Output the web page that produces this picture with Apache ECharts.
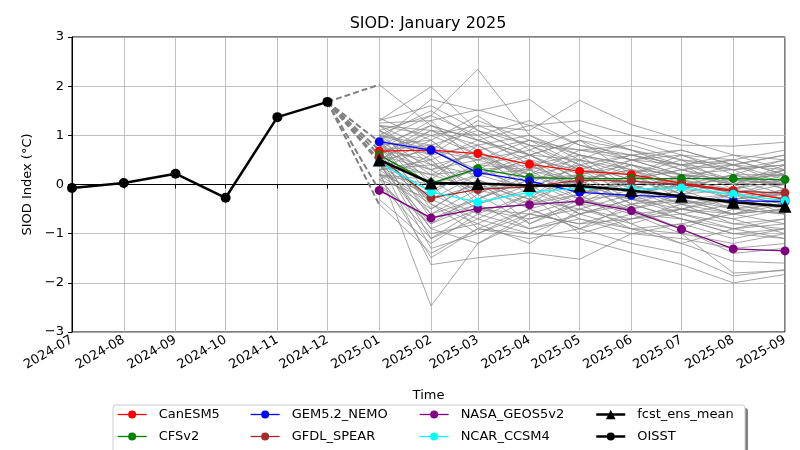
<!DOCTYPE html>
<html>
<head>
<meta charset="utf-8">
<script src="https://cdn.jsdelivr.net/npm/echarts@6/dist/echarts.min.js"></script>
<style>html,body{margin:0;padding:0;background:#fff}#c{width:800px;height:450px}</style>
</head>
<body>
<div id="c"></div>
<script>
// ---------- data ----------
const obsMonths = ['2024-07','2024-08','2024-09','2024-10','2024-11','2024-12'];
const obsValues = [-0.07, 0.03, 0.22, -0.27, 1.37, 1.68];
const fcstMonths = ['2025-01','2025-02','2025-03','2025-04','2025-05','2025-06','2025-07','2025-08','2025-09'];

const canesm5   = [0.68, 0.70, 0.63, 0.41, 0.27, 0.20, 0.03, -0.12, -0.30];
const cfsv2     = [0.60, 0.03, 0.32, 0.14, 0.12, 0.12, 0.12, 0.12, 0.10];
const gem52     = [0.87, 0.70, 0.24, 0.07, -0.16, -0.22, -0.26, -0.33, -0.35];
const gfdl      = [0.55, -0.27, -0.10, -0.05, 0.09, 0.07, 0.00, -0.14, -0.17];
const nasa      = [-0.12, -0.68, -0.49, -0.41, -0.34, -0.53, -0.91, -1.31, -1.35];
const ncar      = [0.45, -0.15, -0.36, -0.16, -0.07, -0.09, -0.07, -0.20, -0.33];
const ensMean   = [0.50, 0.03, 0.02, -0.02, -0.03, -0.12, -0.24, -0.36, -0.44];

// end values (Jan 2025) of the dashed connectors from the last observation
const dashEnds = [2.03, 0.87, 0.70, 0.60, 0.50, 0.45, -0.12, -0.41];

// individual ensemble members (Jan..Sep 2025)
const ensembleMembers = [
 [2.03, 1.2, 0.9, 0.6, 0.5, 0.3, 0.2, 0.1, 0.2],
 [1.3, 1.99, 1.1, 0.8, 0.7, 0.5, 0.4, 0.3, 0.4],
 [1.1, 1.4, 2.34, 1.0, 0.6, 0.4, 0.2, 0.1, 0.0],
 [0.9, 1.73, 1.5, 1.73, 1.0, 0.7, 0.5, 0.4, 0.3],
 [1.2, 1.0, 1.2, 1.1, 1.71, 1.22, 0.91, 0.6, 0.5],
 [1.25, 1.3, 1.52, 1.2, 1.3, 1.0, 0.8, 0.78, 0.86],
 [0.3, -2.47, -1.2, -0.6, -0.8, -0.7, -0.5, -0.6, -0.5],
 [0.5, -1.63, -1.49, -1.39, -1.52, -1.0, -1.1, -1.3, -1.2],
 [0.2, -1.49, -0.9, -1.0, -1.1, -1.38, -1.63, -2.0, -1.83],
 [0.6, -1.3, -1.0, -0.5, -0.9, -1.2, -1.4, -1.86, -1.73],
 [0.4, -0.9, -0.5, -0.7, -0.5, -0.8, -1.2, -1.56, -1.6],
 [0.7, -1.1, -0.7, -1.0, -0.6, -0.9, -1.0, -1.8, -1.75],
 [1.0, 0.8, 1.1, 0.6, 0.9, 0.5, 0.7, 0.4, 0.6],
 [0.8, 1.2, 0.7, 0.9, 0.4, 0.6, 0.3, 0.5, 0.2],
 [0.6, 0.3, 0.5, 0.2, 0.4, 0.1, 0.3, 0.0, 0.1],
 [0.9, -0.2, 0.4, 0.6, 0.1, 0.3, -0.1, 0.2, 0.0],
 [0.4, 0.9, 0.2, 0.5, -0.2, 0.1, 0.4, -0.1, 0.3],
 [1.1, 0.5, -0.3, 0.1, 0.3, -0.2, 0.0, -0.3, -0.1],
 [0.7, -0.6, -0.1, -0.4, 0.2, 0.0, -0.3, -0.2, -0.4],
 [0.2, 0.1, 0.8, 0.3, 0.5, 0.2, -0.2, 0.1, -0.2],
 [1.2, 1.1, 0.6, 0.2, 0.0, -0.3, -0.4, -0.6, -0.5],
 [0.5, 0.7, 1.3, 0.9, 0.7, 0.8, 0.5, 0.3, 0.4],
 [0.0, -0.8, -0.4, -0.9, -0.6, -0.4, -0.7, -0.9, -0.8],
 [0.3, -0.4, -1.0, -0.6, -0.3, -0.6, -0.5, -0.7, -1.0],
 [0.8, 0.4, 0.0, -0.3, -0.5, -0.2, -0.6, -0.4, -0.6],
 [1.0, 1.5, 0.9, 1.2, 0.8, 0.5, 0.6, 0.2, 0.5],
 [0.6, 0.0, 0.3, -0.1, -0.4, -0.5, -0.2, -0.5, -0.3],
 [-0.3, -1.2, -0.6, -0.2, -0.7, -0.9, -0.8, -1.1, -0.9],
 [0.1, 0.6, -0.2, 0.4, 0.0, 0.4, 0.1, -0.1, 0.2],
 [0.9, 0.2, 0.7, 0.0, 0.6, -0.1, 0.2, 0.3, -0.1],
 [1.35, 0.9, 1.4, 0.7, 0.3, 0.6, 0.4, 0.6, 0.3],
 [0.7, 1.3, 0.4, 0.3, 0.9, 0.2, 0.5, 0.0, 0.4],
 [0.4, -0.3, -0.7, -0.2, -1.0, -0.7, -0.4, -0.8, -0.7],
 [0.2, -0.5, 0.1, -0.8, -0.3, -0.5, -0.9, -0.5, -0.6],
 [1.1, 0.6, 0.8, 1.0, 0.5, 0.9, 0.6, 0.5, 0.7],
 [0.5, 1.0, 0.6, 0.1, 0.2, -0.4, -0.1, -0.2, 0.1],
 [-0.1, -0.7, -0.3, 0.2, -0.2, 0.2, -0.3, -0.6, -0.4],
 [0.8, 0.1, -0.5, -0.4, -0.1, -0.3, -0.6, -0.9, -1.1],
 [0.3, 0.8, 0.5, 0.7, 1.1, 0.7, 0.3, 0.4, 0.1],
 [1.0, -0.1, 0.2, 0.5, 0.3, 0.0, 0.1, -0.3, -0.2],
 [0.6, -0.9, -1.2, -0.7, -0.4, -0.1, -0.5, -0.3, -0.5],
 [0.9, 1.4, 1.0, 0.4, 0.6, 0.3, 0.0, 0.2, -0.1],
 [0.4, 0.2, -0.1, 0.0, -0.6, -0.3, -0.2, -0.4, -0.3],
 [1.2, 0.7, 0.3, 0.8, 0.4, 0.1, 0.3, 0.1, 0.0],
 [0.1, -1.0, -0.8, -0.3, 0.1, -0.6, -0.7, -1.0, -0.9],
 [0.7, 0.5, 0.9, 0.5, 0.0, 0.5, 0.2, 0.0, 0.3],
 [0.5, -0.3, 0.0, -0.5, -0.2, -0.8, -0.5, -0.7, -0.5],
 [-0.4, -1.4, -0.9, -1.1, -0.9, -0.6, -1.0, -1.2, -1.0],
 [0.8, 0.9, 0.2, 0.6, 0.2, 0.4, -0.1, 0.2, 0.2],
 [0.3, 0.4, 0.6, -0.1, 0.4, -0.1, -0.4, -0.2, -0.4],
 [1.0, 0.3, -0.2, 0.3, -0.3, 0.2, 0.0, -0.1, -0.2],
 [0.6, 1.1, 0.8, 0.2, 0.7, 0.6, 0.4, 0.1, 0.2],
 [0.2, -0.2, -0.6, -0.9, -0.7, -1.0, -0.8, -0.6, -0.8],
 [1.1, 0.0, 0.4, -0.2, 0.1, -0.4, -0.3, -0.5, -0.6],
 [0.9, 0.6, 1.2, 0.8, 0.3, 0.2, 0.6, 0.3, 0.5],
 [0.4, -0.6, -0.3, 0.1, -0.4, 0.1, -0.2, -0.4, -0.1],
 [0.7, 0.8, 0.1, -0.3, 0.5, -0.2, 0.1, -0.2, 0.0],
 [0.0, -1.1, -0.5, -0.6, -0.8, -0.5, -0.9, -1.4, -1.3],
 [1.3, 1.6, 1.1, 0.6, 0.9, 0.7, 0.4, 0.5, 0.2],
 [0.5, 0.2, 0.3, 0.4, -0.1, 0.0, -0.4, -0.3, -0.2],
 [0.8, -0.4, -0.8, -1.2, -0.5, -0.7, -0.6, -0.8, -0.9],
 [0.3, 0.5, -0.4, 0.0, 0.2, -0.3, 0.2, 0.0, -0.3],
 [0.6, 1.2, 0.9, 0.6, 0.1, 0.3, -0.2, -0.1, 0.1],
 [0.9, -0.5, 0.1, -0.4, -0.2, 0.1, -0.1, -0.5, -0.4],
 [0.2, 0.0, -0.9, -0.5, -0.9, -0.4, -0.7, -1.0, -1.1],
 [1.0, 0.7, 0.5, 0.9, 0.6, 0.4, 0.1, 0.4, 0.0],
 [0.4, -0.8, -0.2, -0.8, -0.4, -0.9, -1.2, -0.9, -0.7],
 [0.7, 0.3, 0.7, 0.1, -0.3, -0.2, 0.0, 0.1, 0.3],
 [1.2, 0.4, 0.2, -0.1, 0.2, 0.5, 0.2, -0.2, -0.2],
 [0.1, -0.3, 0.2, 0.3, 0.0, -0.5, -0.3, -0.6, -0.3],
 [0.5, 1.1, 1.0, 1.3, 0.8, 0.6, 0.7, 0.4, 0.6],
 [0.8, -0.7, -0.4, -0.1, -0.6, -0.3, -0.5, -0.2, -0.6]
];

const yTicks = [-3, -2, -1, 0, 1, 2, 3];

// ---------- build ----------
const FONT = 'DejaVu Sans';
const d = m => m + '-01';
const pair = (months, vals) => months.map((m, i) => [d(m), vals[i]]);

const series = [];
ensembleMembers.forEach((mem, k) => {
  series.push({
    type: 'line', name: 'member' + k, data: pair(fcstMonths, mem),
    symbol: 'none', silent: true, z: 1,
    lineStyle: { color: '#888888', width: 0.8, opacity: 0.95 }
  });
});
dashEnds.forEach((v, k) => {
  series.push({
    type: 'line', name: 'dash' + k,
    data: [[d(obsMonths[obsMonths.length - 1]), obsValues[obsValues.length - 1]], [d(fcstMonths[0]), v]],
    symbol: 'none', silent: true, z: 2,
    lineStyle: { color: '#808080', width: 2, type: [6, 3] }
  });
});
const models = [
  ['CanESM5', canesm5, '#ff0000'],
  ['CFSv2', cfsv2, '#008000'],
  ['GEM5.2_NEMO', gem52, '#0000ff'],
  ['GFDL_SPEAR', gfdl, '#a52a2a'],
  ['NASA_GEOS5v2', nasa, '#800080'],
  ['NCAR_CCSM4', ncar, '#00ffff']
];
models.forEach(([name, vals, col]) => {
  series.push({
    type: 'line', name, data: pair(fcstMonths, vals),
    symbol: 'circle', symbolSize: 9, z: 3,
    itemStyle: { color: col }, lineStyle: { color: col, width: 1.3 }
  });
});
series.push({
  type: 'line', name: 'fcst_ens_mean', data: pair(fcstMonths, ensMean),
  symbol: 'triangle', symbolSize: 13, z: 4,
  itemStyle: { color: '#000' }, lineStyle: { color: '#000', width: 2.5 }
});
series.push({
  type: 'line', name: 'OISST', data: pair(obsMonths, obsValues),
  symbol: 'circle', symbolSize: 10, z: 4,
  itemStyle: { color: '#000' }, lineStyle: { color: '#000', width: 2.5 }
});

const legendItems = [
  ['CanESM5', 117, 408, 1.3], ['CFSv2', 117, 430, 1.3],
  ['GEM5.2_NEMO', 250, 408, 1.3], ['GFDL_SPEAR', 250, 430, 1.3],
  ['NASA_GEOS5v2', 419, 408, 1.3], ['NCAR_CCSM4', 419, 430, 1.3],
  ['fcst_ens_mean', 595, 408, 2.5], ['OISST', 595, 430, 2.5]
];
const legends = legendItems.map(([name, x, y, w]) => ({
  data: [{ name, lineStyle: { width: w } }], left: x, top: y, padding: 0,
  itemWidth: 29, itemHeight: name === 'fcst_ens_mean' ? 12 : 10, selectedMode: false, z: 5,
  textStyle: { fontFamily: FONT, fontSize: 13, color: '#000', padding: [0, 0, 0, 7] }
}));

const chart = echarts.init(document.getElementById('c'), null, { renderer: 'canvas' });
chart.setOption({
  animation: false,
  backgroundColor: '#fff',
  grid: { left: 72, right: 15, top: 37, bottom: 118, show: true, borderColor: '#000', borderWidth: 1, backgroundColor: 'transparent' },
  xAxis: {
    type: 'time', min: d('2024-07'), max: d('2025-09'),
    splitNumber: 14, minInterval: 28 * 864e5, maxInterval: 31 * 864e5,
    name: 'Time', nameLocation: 'middle', nameGap: 57,
    nameTextStyle: { fontFamily: FONT, fontSize: 13, color: '#000' },
    axisLine: { show: true, lineStyle: { color: '#000', width: 1 } },
    axisTick: { show: true, length: 4, lineStyle: { color: '#000' } },
    axisLabel: {
      rotate: 30, margin: 7, fontFamily: FONT, fontSize: 13, color: '#000', hideOverlap: false,
      formatter: v => { const t = new Date(v); return t.getFullYear() + '-' + String(t.getMonth() + 1).padStart(2, '0'); }
    },
    splitLine: { show: true, lineStyle: { color: '#b0b0b0', width: 0.8 } }
  },
  yAxis: {
    type: 'value', min: yTicks[0], max: yTicks[yTicks.length - 1], interval: 1,
    name: 'SIOD Index (°C)', nameLocation: 'middle', nameGap: 37, nameRotate: 90,
    nameTextStyle: { fontFamily: FONT, fontSize: 13, color: '#000' },
    axisLine: { show: true, lineStyle: { color: '#000', width: 1 } },
    axisTick: { show: true, length: 4, lineStyle: { color: '#000' } },
    axisLabel: { margin: 8, fontFamily: FONT, fontSize: 13, color: '#000', formatter: v => String(v).replace('-', '\u2212') },
    splitLine: { show: true, lineStyle: { color: '#b0b0b0', width: 0.8 } }
  },
  legend: legends,
  graphic: [
    { type: 'rect', shape: { x: 116, y: 408, width: 632, height: 50, r: 3 }, style: { fill: '#808080' }, z: 0, silent: true },
    { type: 'rect', shape: { x: 113, y: 405, width: 632, height: 50, r: 3 }, style: { fill: '#fff', stroke: '#cccccc', lineWidth: 1 }, z: 0, silent: true },
    { type: 'text', x: 428, y: 16, style: { text: 'SIOD: January 2025', font: '16px "DejaVu Sans"', fill: '#000', textAlign: 'center' }, silent: true }
  ],
  series
});
</script>
</body>
</html>
